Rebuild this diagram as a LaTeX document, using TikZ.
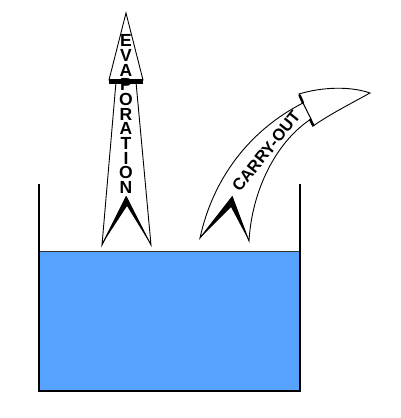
\documentclass[tikz,border=0pt]{standalone}
\usepackage{fontspec}
\setmainfont{Liberation Sans}
\definecolor{water}{RGB}{85,163,255}
\begin{document}
\begin{tikzpicture}[x=1pt,y=-1pt,
  outline/.style={draw=black,line width=0.9pt,fill=white,line join=miter},
  shade/.style={fill=black},
  lbl/.style={font=\bfseries\fontsize{17.5}{17.5}\selectfont,inner sep=0pt,text height=12.6pt,text depth=0pt}]
\useasboundingbox (0,0) rectangle (400,418);
% water
\fill[water] (39,251) rectangle (300,391);
\draw[line width=0.8pt,black!80] (39,251) -- (300,251);
% tank
\draw[line width=1.6pt,line join=miter] (39,184) -- (39,391) -- (300,391) -- (300,184);
% evaporation arrow
\draw[outline] (109,80) -- (126,13) -- (143,80) -- cycle;
\draw[outline] (116,82) -- (102,245) -- (126,197) -- (151,245) -- (136,82) -- cycle;
\fill (109,78.5) rectangle (143,83.5);
\fill[shade] (101.5,245) -- (126.5,196) -- (151,245) -- (127,206) -- cycle;
\foreach \l [count=\i from 0] in {E,V,A,P,O,R,A,T,I,O,N}
  \node[lbl] (ev\i) at (126,{40.5+\i*14.65}) {\l};
% carry-out arrow
\draw[outline] (299,94) .. controls (322,87) and (350,86) .. (370,93)
   .. controls (352,103) and (332,113) .. (313,126) -- cycle;
\draw[outline] (200,238) .. controls (213,178) and (250,130) .. (303,103)
   -- (311,119) .. controls (276,142) and (252,190) .. (249,241)
   -- (232,197) -- cycle;
\draw[line width=2.5pt] (299.5,95) -- (303,103);
\draw[line width=2.5pt] (310,119) -- (313.5,126);
\fill[shade] (199.5,238.5) -- (232.5,196) -- (249,241) -- (231,207) -- cycle;
\node[lbl,font=\bfseries\fontsize{16.5}{16.5}\selectfont,text height=11.9pt,rotate=51] (co) at (266,151) {CARRY-OUT};
\end{tikzpicture}
\end{document}
